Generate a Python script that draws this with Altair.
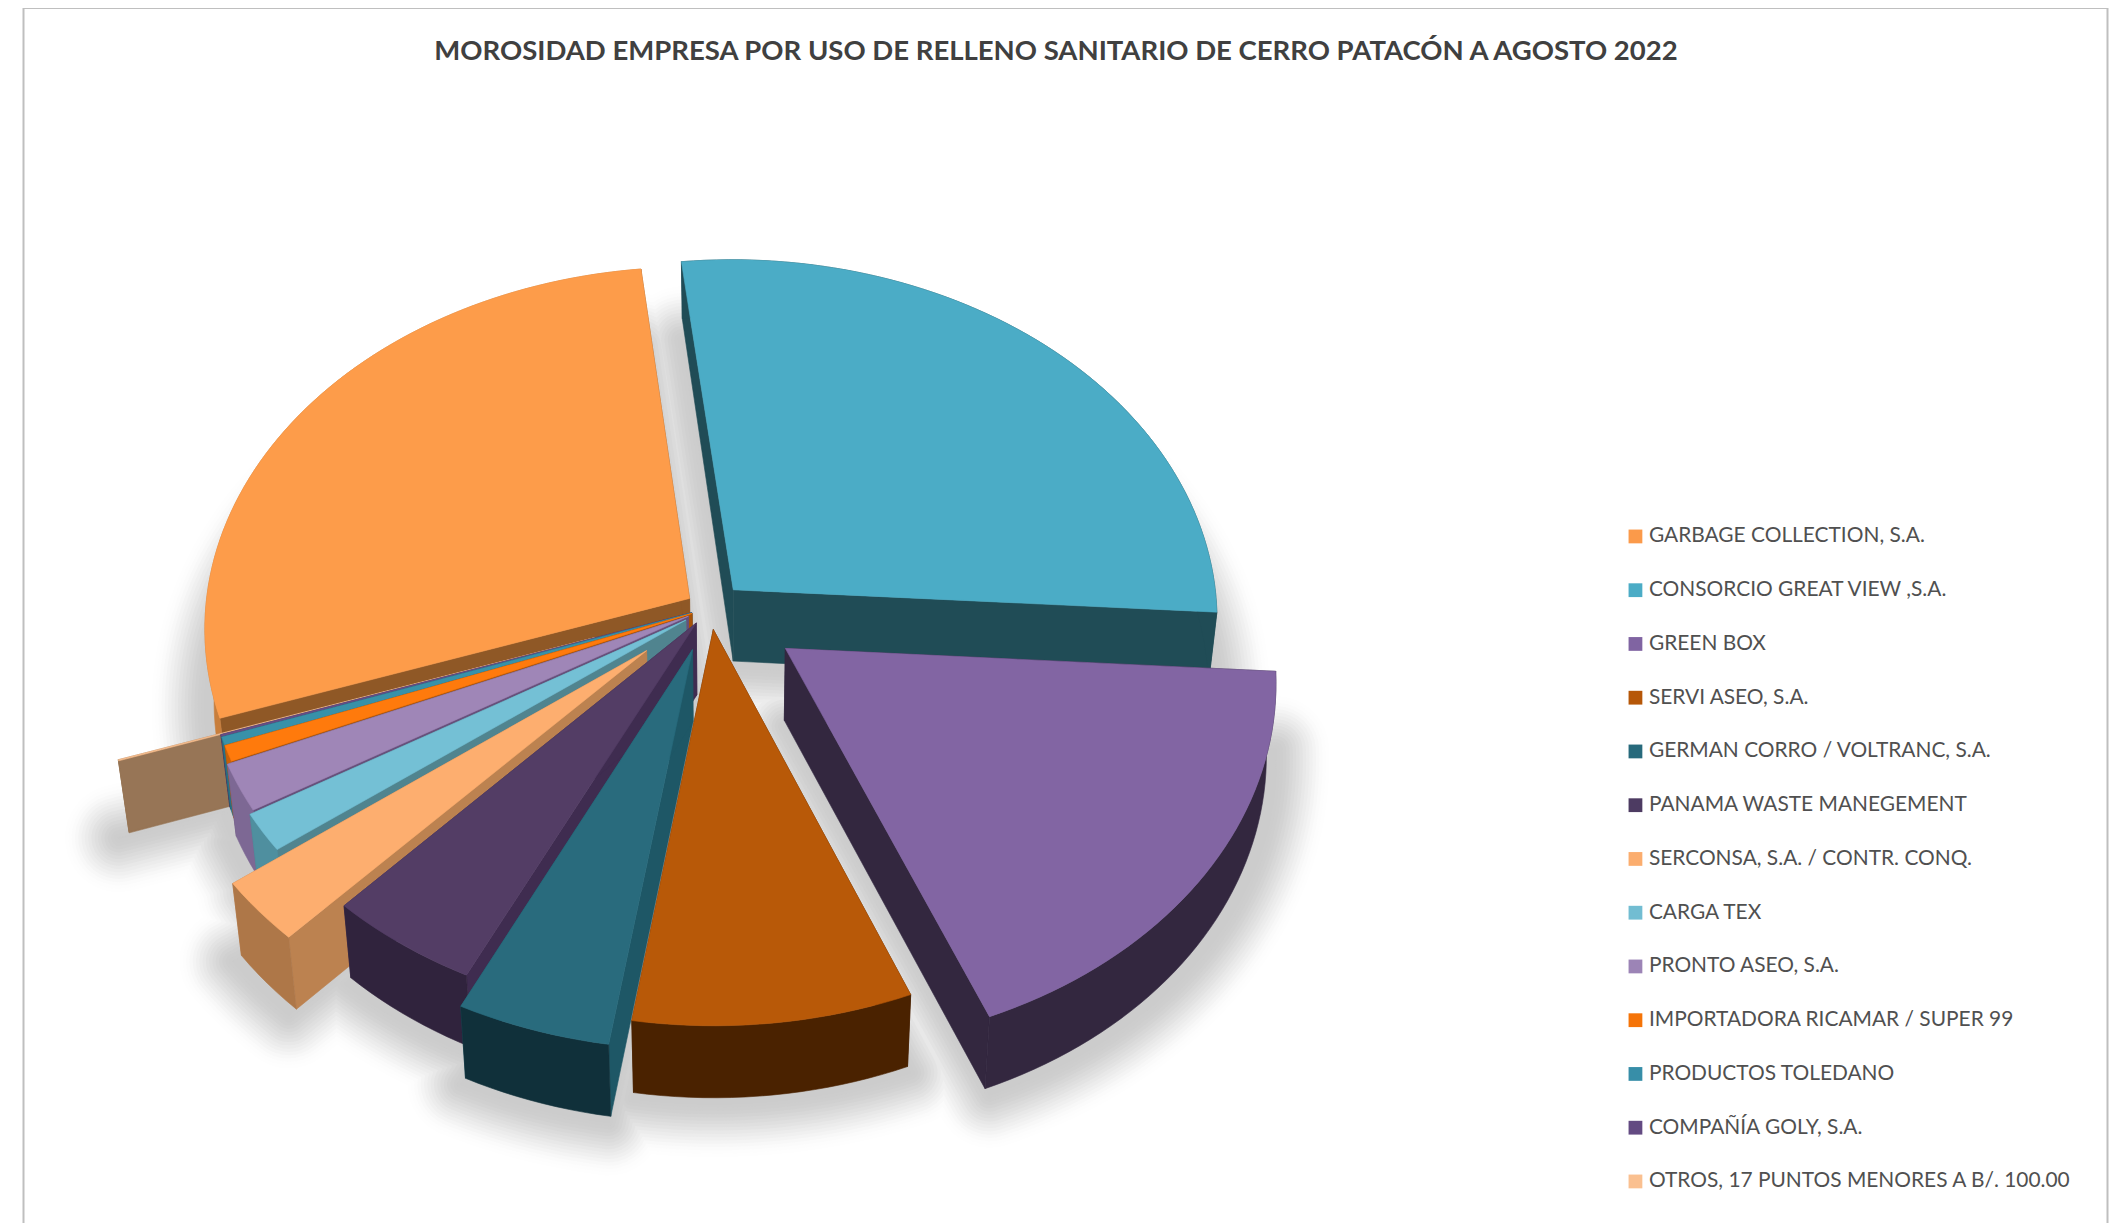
import math
import altair as alt
import pandas as pd

TITLE = "MOROSIDAD EMPRESA POR USO DE RELLENO SANITARIO DE CERRO PATACÓN A AGOSTO 2022"
names = ["GARBAGE COLLECTION, S.A.", "CONSORCIO GREAT VIEW ,S.A.", "GREEN BOX", "SERVI ASEO, S.A.",
         "GERMAN CORRO / VOLTRANC, S.A.", "PANAMA WASTE MANEGEMENT", "SERCONSA, S.A. / CONTR. CONQ.",
         "CARGA TEX", "PRONTO ASEO, S.A.", "IMPORTADORA RICAMAR / SUPER 99", "PRODUCTOS TOLEDANO",
         "COMPAÑÍA GOLY, S.A.", "OTROS, 17 PUNTOS MENORES A B/. 100.00"]
shares = [28.4, 27.7, 17.85, 8.55, 4.7, 4.7, 2.8, 1.7, 2.1, 0.7, 0.35, 0.1, 0.05]
explode = [0.05, 0.07, 0.19, 0.06, 0.12, 0.05, 0.175, 0.06, 0.05, 0.04, 0.04, 0.04, 0.25]
legend_colors = ["#FB9A4A", "#4BACC6", "#8064A2", "#B65708", "#276A7C", "#4D3B62", "#FBAD6E",
                 "#72BDD2", "#9C84B6", "#F57408", "#378EA8", "#634A82", "#FAC090"]
top_colors = ["#FD9C4A", "#4BACC6", "#8265A3", "#B85908", "#296B7D", "#533D65", "#FDAE6F",
              "#74C0D5", "#9F86B7", "#FF7A0C", "#3891A9", "#644D85", "#FAC090"]
side_colors = ["#8F5826", "#204C56", "#33273F", "#4A2200", "#1E5766", "#3F2C50", "#BC8250",
               "#50848F", "#66507B", "#A55208", "#1F5563", "#3E2F55", "#977556"]
rim_colors = ["#C87E3C", "#204C56", "#33273F", "#4A2200", "#10303A", "#30233D", "#AE7748",
              "#4F8F9F", "#7D6894", "#C86008", "#2A7085", "#4E3C6C", "#977556"]
paint_order = [1, 0, 12, 11, 10, 9, 8, 7, 6, 5, 4, 3, 2]

# projection of the pie plane
CX, CY, RX, RY, PERSP = 702.0, 600.0, 484.0, 360.0, 0.082
DEPTH, SHRINK, X0 = 72.0, 0.0175, 722.0
FIRST_ANGLE = 251.0
SHADOW_DY, SHADOW_STEPS, SHADOW_BLUR = 78.0, 18, 56.0


def project(u, v):
    w = 1 + PERSP * v
    return CX + RX * u / w, CY - RY * v / w


def lower(p, v):
    return p[0] - SHRINK * (p[0] - X0), p[1] + DEPTH * (1 - 0.2 * max(v, 0))


total = sum(shares)
features = []


def add(points, fill, width=0.6):
    ring = [[round(x, 2), round(y, 2)] for x, y in points]
    ring.append(ring[0])
    features.append({"type": "Feature", "properties": {"fill": fill, "width": width},
                     "geometry": {"type": "Polygon", "coordinates": [ring]}})


spans = []
a = FIRST_ANGLE
for s in shares:
    b = a + 360 * s / total
    spans.append((a, b))
    a = b


def wedge(i):
    a, b = spans[i]
    mid = math.radians((a + b) / 2)
    ou, ov = explode[i] * math.sin(mid), explode[i] * math.cos(mid)
    n = max(2, int((b - a) / 1.5))
    pts = []
    for k in range(n + 1):
        t = math.radians(a + (b - a) * k / n)
        pts.append((ou + math.sin(t), ov + math.cos(t)))
    return (ou, ov), pts


# soft shadow on the floor: the slices' footprint, widened step by step
for step in range(SHADOW_STEPS):
    t = 1 - step / (SHADOW_STEPS - 1)
    smooth = t * t * (3 - 2 * t)
    level = round(204 + 51 * smooth)
    col = f"#{level:02X}{level:02X}{level:02X}"
    for i in paint_order:
        apex, rim = wedge(i)
        pts = [project(*apex)] + [project(*r) for r in rim]
        add([(x, y + SHADOW_DY) for x, y in pts], col, 2 * SHADOW_BLUR * t + 1)

# solid slices, painted far to near
for i in paint_order:
    apex, rim = wedge(i)
    top_apex = project(*apex)
    top_rim = [project(*r) for r in rim]
    low_apex = lower(top_apex, apex[1])
    low_rim = [lower(p, r[1]) for p, r in zip(top_rim, rim)]
    add([top_apex, top_rim[0], low_rim[0], low_apex], side_colors[i])
    add([top_apex, top_rim[-1], low_rim[-1], low_apex], side_colors[i])
    add(top_rim + low_rim[::-1], rim_colors[i])
    add([top_apex] + top_rim, top_colors[i])

pie = alt.Chart(alt.Data(values=features)).mark_geoshape(strokeJoin="round").encode(
    fill=alt.Fill("properties.fill:N", scale=None),
    stroke=alt.Stroke("properties.fill:N", scale=None),
    strokeWidth=alt.StrokeWidth("properties.width:Q", scale=None),
).project(type="identity", scale=1, translate=[0, 0])

legend_table = pd.DataFrame({"name": names, "share": shares})
legend_layer = alt.Chart(legend_table).mark_point(filled=True, size=0, opacity=0).encode(
    x=alt.value(-50), y=alt.value(-50),
    color=alt.Color("name:N", sort=names,
                    scale=alt.Scale(domain=names, range=legend_colors),
                    legend=alt.Legend(title=None, orient="none", legendX=1617, legendY=518,
                                      symbolType="square", symbolSize=190, symbolOpacity=1,
                                      symbolStrokeWidth=0, labelFont="Lato", labelFontSize=20.9,
                                      labelColor="#505050", rowPadding=31.75, labelLimit=520,
                                      labelOffset=3)),
)

frame = pd.DataFrame({"side": ["l", "r"]})
left = alt.Chart(frame.iloc[:1]).mark_rule(color="#BFBFBF", strokeWidth=2).encode(
    x=alt.value(15.5), y=alt.value(0), y2=alt.value(1215))
right = alt.Chart(frame.iloc[1:]).mark_rule(color="#BFBFBF", strokeWidth=2).encode(
    x=alt.value(2099.5), y=alt.value(0), y2=alt.value(1215))
top = alt.Chart(frame.iloc[:1]).mark_rule(color="#BFBFBF", strokeWidth=2).encode(
    x=alt.value(15.5), x2=alt.value(2099.5), y=alt.value(0))
title = alt.Chart(pd.DataFrame({"t": [TITLE]})).mark_text(
    font="Lato", fontSize=27.5, fontWeight="bold", color="#404040", align="center", baseline="middle"
).encode(text="t:N", x=alt.value(1048), y=alt.value(44))

chart = alt.layer(pie, left, right, top, title, legend_layer).properties(
    width=2104, height=1215, padding=0, autosize="none"
).configure_view(stroke=None).resolve_scale(color="independent")

chart.save("out.html", embed_options={"renderer": "svg", "actions": False})
